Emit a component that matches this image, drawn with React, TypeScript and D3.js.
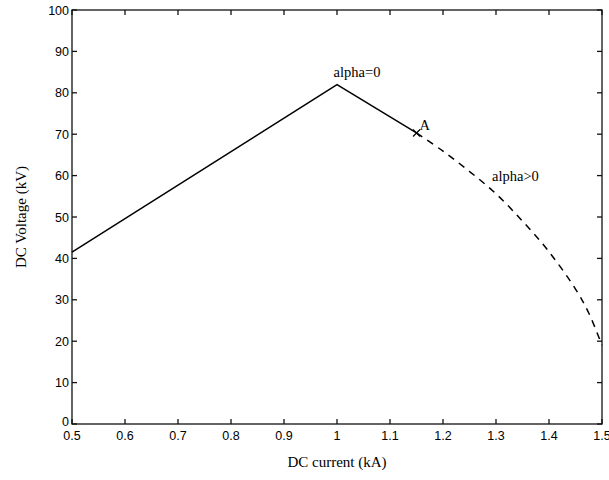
import React, { useEffect, useRef } from "react";
import * as d3 from "d3";

// DC operating characteristic: current (kA) vs voltage (kV)
const solidCurrent = [0.5, 1.0, 1.15];
const solidVoltage = [41.5, 82.0, 70.3];

const dashedCurrent = [1.15, 1.2, 1.25, 1.3, 1.35, 1.4, 1.45, 1.475, 1.5];
const dashedVoltage = [70.3, 65.9, 61.0, 55.6, 49.0, 41.6, 32.6, 26.8, 19.0];

const pointA = [1.15, 70.3];

const xTicks = [0.5, 0.6, 0.7, 0.8, 0.9, 1, 1.1, 1.2, 1.3, 1.4, 1.5];
const yTicks = [0, 10, 20, 30, 40, 50, 60, 70, 80, 90, 100];

const W = 609;
const H = 480;
const M = { left: 72, right: 7, top: 10, bottom: 56 };

export default function App() {
  const ref = useRef<SVGSVGElement>(null);

  useEffect(() => {
    const svg = d3.select(ref.current);
    svg.selectAll("*").remove();

    const x = d3.scaleLinear().domain([0.5, 1.5]).range([M.left, W - M.right]);
    const y = d3.scaleLinear().domain([0, 100]).range([H - M.bottom, M.top]);

    const tickFont = "'Liberation Sans', Arial, Helvetica, sans-serif";
    const serif = "'Liberation Serif', 'Times New Roman', serif";

    // Frame
    svg
      .append("rect")
      .attr("x", x(0.5))
      .attr("y", y(100))
      .attr("width", x(1.5) - x(0.5))
      .attr("height", y(0) - y(100))
      .attr("fill", "none")
      .attr("stroke", "#111")
      .attr("stroke-width", 1.3);

    // Inward ticks on all four sides
    const tk = 5;
    const g = svg.append("g").attr("stroke", "#111").attr("stroke-width", 1.3);
    xTicks.forEach((t) => {
      g.append("line").attr("x1", x(t)).attr("x2", x(t)).attr("y1", y(0)).attr("y2", y(0) - tk);
      g.append("line").attr("x1", x(t)).attr("x2", x(t)).attr("y1", y(100)).attr("y2", y(100) + tk);
    });
    yTicks.forEach((t) => {
      g.append("line").attr("x1", x(0.5)).attr("x2", x(0.5) + tk).attr("y1", y(t)).attr("y2", y(t));
      g.append("line").attr("x1", x(1.5)).attr("x2", x(1.5) - tk).attr("y1", y(t)).attr("y2", y(t));
    });

    // Tick labels
    svg
      .append("g")
      .selectAll("text")
      .data(xTicks)
      .join("text")
      .attr("x", (d) => x(d))
      .attr("y", y(0) + 16)
      .attr("text-anchor", "middle")
      .attr("font-family", tickFont)
      .attr("font-size", 12.5)
      .text((d) => (d === 1 ? "1" : d3.format(".1f")(d)));

    svg
      .append("g")
      .selectAll("text")
      .data(yTicks)
      .join("text")
      .attr("x", x(0.5) - 3)
      .attr("y", (d) => y(d) + (d === 0 ? 2 : 4.5))
      .attr("text-anchor", "end")
      .attr("font-family", tickFont)
      .attr("font-size", 12.5)
      .text((d) => String(d));

    // Axis titles
    svg
      .append("text")
      .attr("x", (x(0.5) + x(1.5)) / 2)
      .attr("y", 467)
      .attr("text-anchor", "middle")
      .attr("font-family", serif)
      .attr("font-size", 15)
      .text("DC current (kA)");

    svg
      .append("text")
      .attr("transform", `translate(26,${(y(0) + y(100)) / 2}) rotate(-90)`)
      .attr("text-anchor", "middle")
      .attr("font-family", serif)
      .attr("font-size", 15)
      .text("DC Voltage (kV)");

    // Solid segment (alpha = 0)
    const solid = solidCurrent.map((c, i) => [c, solidVoltage[i]] as [number, number]);
    svg
      .append("path")
      .attr(
        "d",
        d3
          .line<[number, number]>()
          .x((d) => x(d[0]))
          .y((d) => y(d[1]))(solid)
      )
      .attr("fill", "none")
      .attr("stroke", "#000")
      .attr("stroke-width", 1.5);

    // Dashed segment (alpha > 0)
    const dashed = dashedCurrent.map((c, i) => [c, dashedVoltage[i]] as [number, number]);
    svg
      .append("path")
      .attr(
        "d",
        d3
          .line<[number, number]>()
          .x((d) => x(d[0]))
          .y((d) => y(d[1]))
          .curve(d3.curveCatmullRom)(dashed)
      )
      .attr("fill", "none")
      .attr("stroke", "#000")
      .attr("stroke-width", 1.5)
      .attr("stroke-dasharray", "7,6");

    // Marker at A
    const ax = x(pointA[0]);
    const ay = y(pointA[1]);
    const s = 3.5;
    svg
      .append("path")
      .attr("d", `M${ax - s},${ay - s}L${ax + s},${ay + s}M${ax - s},${ay + s}L${ax + s},${ay - s}`)
      .attr("stroke", "#000")
      .attr("stroke-width", 1.2);

    // Annotations
    const label = (tx: number, ty: number, txt: string, anchor = "start") =>
      svg
        .append("text")
        .attr("x", tx)
        .attr("y", ty)
        .attr("text-anchor", anchor)
        .attr("font-family", serif)
        .attr("font-size", 14.5)
        .text(txt);

    label(x(1.0) + 20, y(82) - 8, "alpha=0", "middle");
    label(ax + 3, ay - 3, "A");
    label(x(1.3) - 4, y(60) + 5, "alpha>0");
  }, []);

  return (
    <svg
      ref={ref}
      width={W}
      height={H}
      style={{ position: "absolute", left: 0, top: 0, background: "#fff" }}
    />
  );
}
